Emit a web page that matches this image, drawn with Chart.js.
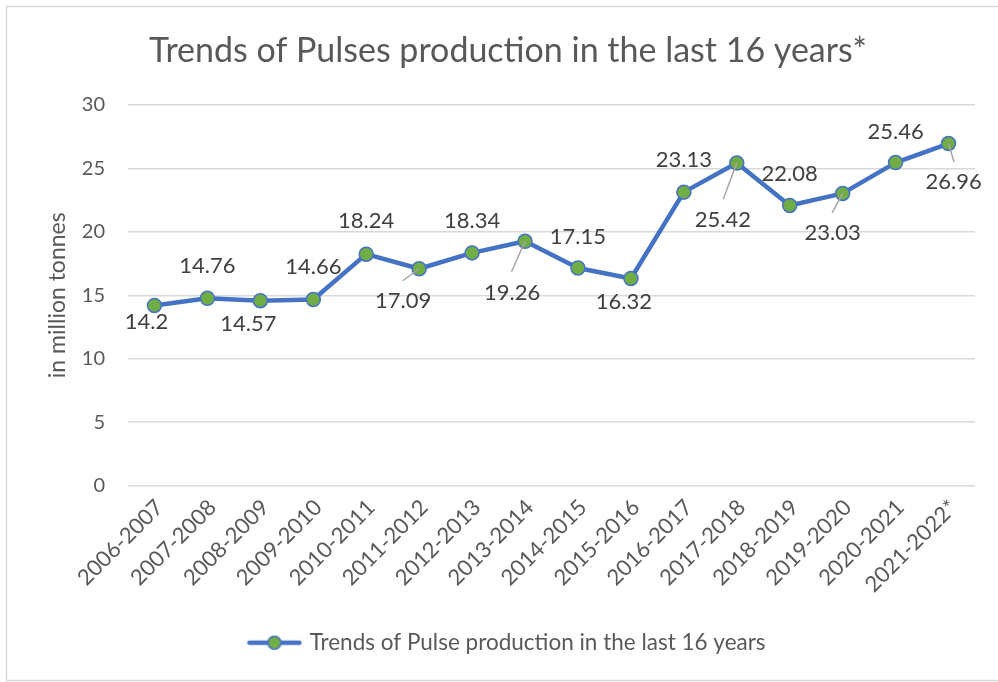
<!DOCTYPE html>
<html><head><meta charset="utf-8">
<script src="https://cdn.jsdelivr.net/npm/chart.js@4"></script>
<style>html,body{margin:0;padding:0;background:#fff;} canvas{display:block;}</style>
</head><body>
<canvas id="c" width="998" height="682"></canvas>
<script>
// ---------- data ----------
const categories = ['2006-2007','2007-2008','2008-2009','2009-2010','2010-2011','2011-2012','2012-2013','2013-2014','2014-2015','2015-2016','2016-2017','2017-2018','2018-2019','2019-2020','2020-2021','2021-2022*'];
const production = [14.2, 14.76, 14.57, 14.66, 18.24, 17.09, 18.34, 19.26, 17.15, 16.32, 23.13, 25.42, 22.08, 23.03, 25.46, 26.96];
const yTicks = [0, 5, 10, 15, 20, 25, 30];
const chartTitle = 'Trends of Pulses production in the last 16 years*';
const seriesName = 'Trends of Pulse production in the last 16 years';
const yAxisTitle = 'in million tonnes';

// ---------- label placement (styling, pixel offsets from each marker) ----------
const labelPlacement = [
  {dx:-8, dy:17}, {dx:0, dy:-32}, {dx:-12, dy:23}, {dx:0, dy:-33},
  {dx:0, dy:-33}, {dx:-16, dy:32, lx:-16.5, ly:12}, {dx:0, dy:-32}, {dx:-13, dy:52, lx:-13.5, ly:30.5},
  {dx:0, dy:-31}, {dx:-7, dy:23}, {dx:0, dy:-32}, {dx:-14, dy:57, lx:-13.5, ly:36},
  {dx:0, dy:-32}, {dx:-10, dy:40, lx:-10.5, ly:19.5}, {dx:0, dy:-31}, {dx:5, dy:38, lx:5.5, ly:18.5}
];

const FONT = 'Lato';
const BLUE = '#4472C4', GREEN = '#70AD47', GREY = '#595959';

// legend icon: line with marker
const legendIcon = document.createElement('canvas');
legendIcon.width = 56; legendIcon.height = 18;
(function(){
  const g = legendIcon.getContext('2d');
  g.strokeStyle = BLUE; g.lineWidth = 4.5; g.lineCap = 'round';
  g.beginPath(); g.moveTo(3, 9); g.lineTo(53, 9); g.stroke();
  g.beginPath(); g.arc(28, 9, 6.5, 0, Math.PI*2);
  g.fillStyle = GREEN; g.fill(); g.lineWidth = 1.5; g.strokeStyle = BLUE; g.stroke();
})();

const framePlugin = {
  id: 'frame',
  beforeDraw(chart) {
    const ctx = chart.ctx;
    ctx.save();
    ctx.fillStyle = '#fff';
    ctx.fillRect(0, 0, chart.width, chart.height);
    ctx.strokeStyle = '#D9D9D9'; ctx.lineWidth = 1.5;
    ctx.beginPath();
    ctx.moveTo(998, 6.5); ctx.lineTo(6.5, 6.5); ctx.lineTo(6.5, 680.5); ctx.lineTo(998, 680.5);
    ctx.stroke();
    ctx.restore();
  }
};

const dataLabelPlugin = {
  id: 'dataLabels',
  afterDatasetsDraw(chart) {
    const ctx = chart.ctx;
    const meta = chart.getDatasetMeta(0);
    const vals = chart.data.datasets[0].data;
    ctx.save();
    meta.data.forEach((pt, i) => {
      const p = labelPlacement[i];
      if (p.lx !== undefined) {
        ctx.strokeStyle = '#A6A6A6'; ctx.lineWidth = 1.5;
        ctx.beginPath(); ctx.moveTo(pt.x, pt.y); ctx.lineTo(pt.x + p.lx, pt.y + p.ly); ctx.stroke();
      }
      ctx.fillStyle = '#404040';
      ctx.font = '22px ' + FONT;
      ctx.textAlign = 'center'; ctx.textBaseline = 'middle';
      ctx.fillText(String(vals[i]), pt.x + p.dx, pt.y + p.dy);
    });
    ctx.restore();
  }
};

new Chart(document.getElementById('c'), {
  type: 'line',
  data: {
    labels: categories,
    datasets: [{
      label: seriesName,
      data: production,
      borderColor: BLUE,
      borderWidth: 4.5,
      borderJoinStyle: 'round',
      tension: 0,
      pointRadius: 7,
      pointHoverRadius: 7,
      pointBorderWidth: 1.5,
      pointBackgroundColor: GREEN,
      pointBorderColor: BLUE,
      fill: false
    }]
  },
  options: {
    responsive: false,
    animation: false,
    devicePixelRatio: 1,
    layout: { padding: { left: 23, right: 5, top: 0, bottom: 18 } },
    plugins: {
      title: {
        display: true, text: chartTitle, color: GREY,
        font: { family: FONT, size: 34, weight: 'normal' },
        padding: { top: 31, bottom: 33.2 }
      },
      legend: {
        display: true, position: 'bottom',
        labels: {
          color: GREY, font: { family: FONT, size: 22.5 }, padding: 10,
          usePointStyle: true, pointStyleWidth: 48,
          generateLabels: () => [{ text: seriesName, pointStyle: legendIcon, fillStyle: GREEN, strokeStyle: BLUE, lineWidth: 0, hidden: false, datasetIndex: 0, fontColor: GREY }]
        }
      },
      tooltip: { enabled: false }
    },
    scales: {
      x: {
        offset: true,
        grid: { display: false, drawTicks: false },
        border: { display: false },
        ticks: { color: GREY, font: { family: FONT, size: 22 }, minRotation: 45, maxRotation: 45, autoSkip: false, padding: 9, labelOffset: 5 },
        afterFit(s) { s.height = 136; s.paddingRight = 23; }
      },
      y: {
        min: 0, max: 30,
        afterBuildTicks(s) { s.ticks = yTicks.map(v => ({ value: v })); },
        grid: { color: '#D9D9D9', lineWidth: 1.5, drawTicks: false },
        border: { display: false },
        ticks: { color: GREY, font: { family: FONT, size: 20 }, padding: 23 },
        title: { display: true, text: yAxisTitle, color: GREY, font: { family: FONT, size: 23 }, padding: { top: 21, bottom: 0 } },
        afterFit(s) { s.width = 105; }
      }
    }
  },
  plugins: [framePlugin, dataLabelPlugin]
});
</script>
</body></html>
